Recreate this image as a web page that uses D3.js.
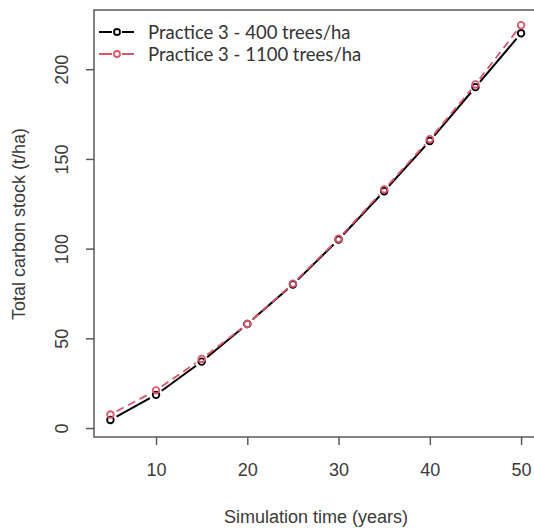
<!DOCTYPE html>
<html>
<head>
<meta charset="utf-8">
<script src="https://cdn.jsdelivr.net/npm/d3@7"></script>
<style>
  html, body { margin: 0; padding: 0; background: #fff; }
  svg { display: block; }
</style>
</head>
<body>
<script>
// Simulated total carbon stock for Practice 3 at two planting densities
const years = [5, 10, 15, 20, 25, 30, 35, 40, 45, 50];
const stock400 = [4.5, 18.5, 37, 58, 80, 105, 132, 160, 190, 220];
const stock1100 = [7.5, 21, 38.5, 58, 80.5, 105.5, 133, 161, 191.5, 224.5];
const xTicks = [10, 20, 30, 40, 50];
const yTicks = [0, 50, 100, 150, 200];
const seriesNames = ["Practice 3 - 400 trees/ha", "Practice 3 - 1100 trees/ha"];
const seriesColors = ["#000000", "#DF536B"];

const W = 534, H = 528;
const svg = d3.select("body").append("svg").attr("width", W).attr("height", H);

const x = d3.scaleLinear().domain([3.2, 51.8]).range([94, 537.5]);
const y = d3.scaleLinear().domain([-5, 233]).range([437, 10]);

const axisColor = "#5a5a5a";
const textColor = "#3a3a3a";
const axisFont = "Liberation Sans, Arial, sans-serif";

// plot frame
svg.append("rect")
  .attr("x", x.range()[0]).attr("y", y.range()[1])
  .attr("width", x.range()[1] - x.range()[0])
  .attr("height", y.range()[0] - y.range()[1])
  .attr("fill", "none").attr("stroke", axisColor).attr("stroke-width", 1.5);

// x axis
const xAxis = svg.append("g").attr("transform", `translate(0,${y.range()[0]})`)
  .call(d3.axisBottom(x).tickValues(xTicks).tickSize(8).tickPadding(18));
xAxis.select(".domain").remove();
xAxis.selectAll("line").attr("stroke", axisColor).attr("stroke-width", 1.5);
xAxis.selectAll("text").attr("font-family", axisFont).attr("font-size", 18).attr("fill", textColor);

// y axis, labels parallel to the axis
const yAxis = svg.append("g").attr("transform", `translate(${x.range()[0]},0)`)
  .call(d3.axisLeft(y).tickValues(yTicks).tickSize(8));
yAxis.select(".domain").remove();
yAxis.selectAll("line").attr("stroke", axisColor).attr("stroke-width", 1.5);
yAxis.selectAll("text")
  .attr("font-family", axisFont).attr("font-size", 18).attr("fill", textColor)
  .attr("x", null)
  .attr("text-anchor", "middle")
  .attr("transform", "translate(-32,0) rotate(-90)")
  .attr("dy", "0.35em");

// axis titles
svg.append("text")
  .attr("x", 316).attr("y", 523)
  .attr("text-anchor", "middle")
  .attr("font-family", axisFont).attr("font-size", 18).attr("fill", textColor)
  .text("Simulation time (years)");
svg.append("text")
  .attr("transform", "translate(19,224) rotate(-90)")
  .attr("text-anchor", "middle")
  .attr("dy", "0.35em")
  .attr("font-family", axisFont).attr("font-size", 18).attr("fill", textColor)
  .text("Total carbon stock (t/ha)");

// "both" style: line segments trimmed short of each point, then open circles
const gap = 7;
function drawSeries(vals, color, dash, lw) {
  const pts = years.map((yr, i) => [x(yr), y(vals[i])]);
  const segs = [];
  for (let i = 0; i < pts.length - 1; i++) {
    const [x0, y0] = pts[i], [x1, y1] = pts[i + 1];
    const len = Math.hypot(x1 - x0, y1 - y0);
    if (len <= 2 * gap) continue;
    const ux = (x1 - x0) / len, uy = (y1 - y0) / len;
    segs.push([[x0 + ux * gap, y0 + uy * gap], [x1 - ux * gap, y1 - uy * gap]]);
  }
  const g = svg.append("g");
  g.selectAll("line").data(segs).join("line")
    .attr("x1", d => d[0][0]).attr("y1", d => d[0][1])
    .attr("x2", d => d[1][0]).attr("y2", d => d[1][1])
    .attr("stroke", color).attr("stroke-width", lw)
    .attr("stroke-dasharray", dash);
  g.selectAll("circle").data(pts).join("circle")
    .attr("cx", d => d[0]).attr("cy", d => d[1]).attr("r", 3.3)
    .attr("fill", "none").attr("stroke", color).attr("stroke-width", 1.8);
}
drawSeries(stock400, seriesColors[0], null, 2);
drawSeries(stock1100, seriesColors[1], "8,5", 1.8);

// legend
const legend = svg.append("g");
seriesNames.forEach((name, i) => {
  const ly = 32 + i * 22;
  const row = legend.append("g");
  row.append("line").attr("x1", 99).attr("x2", 112).attr("y1", ly).attr("y2", ly)
    .attr("stroke", seriesColors[i]).attr("stroke-width", 2);
  row.append("line").attr("x1", 122).attr("x2", 134).attr("y1", ly).attr("y2", ly)
    .attr("stroke", seriesColors[i]).attr("stroke-width", 2);
  row.append("circle").attr("cx", 117).attr("cy", ly).attr("r", 3)
    .attr("fill", "none").attr("stroke", seriesColors[i]).attr("stroke-width", 1.8);
  row.append("text").attr("x", 148).attr("y", ly).attr("dy", "0.36em")
    .attr("font-family", "Lato, sans-serif").attr("font-size", 18.5).attr("fill", "#333")
    .text(name);
});
</script>
</body>
</html>
